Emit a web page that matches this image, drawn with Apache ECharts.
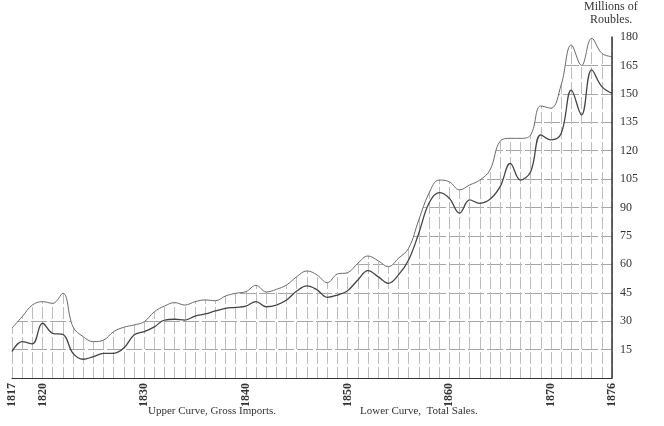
<!DOCTYPE html>
<html>
<head>
<meta charset="utf-8">
<script src="https://cdn.jsdelivr.net/npm/echarts@6/dist/echarts.min.js"></script>
<style>
html,body{margin:0;padding:0;background:#fff;}
#chart{width:664px;height:426px;}
</style>
</head>
<body>
<div id="chart"></div>
<script>
const years = [];
for (let y = 1817; y <= 1876; y++) years.push(y);

const grossImports = [
  26.4, 32.4, 38.5, 40.3, 39.4, 44.7, 27.0, 21.8, 19.2, 20.0,
  24.5, 26.8, 28.0, 29.7, 35.0, 38.0, 39.8, 38.5, 40.3, 41.2,
  40.8, 43.3, 44.7, 45.6, 48.9, 45.4, 46.8, 49.1, 53.5, 56.5,
  54.4, 50.3, 54.9, 55.6, 60.5, 64.4, 61.9, 58.8, 63.2, 68.5,
  83.4, 97.5, 104.5, 103.6, 99.3, 101.9, 104.5, 109.8, 125.0, 126.5,
  126.5, 128.3, 143.6, 142.4, 154.7, 175.8, 165.0, 179.3, 171.4, 169.6
];

const totalSales = [
  13.9, 19.2, 18.0, 28.9, 23.6, 23.0, 13.0, 9.9, 11.3, 13.0,
  13.0, 15.8, 22.7, 24.5, 27.0, 30.6, 31.0, 30.6, 32.7, 33.8,
  35.4, 36.8, 37.3, 38.0, 40.3, 37.6, 38.5, 41.2, 45.9, 48.6,
  46.5, 42.6, 43.8, 46.1, 51.7, 56.7, 53.5, 50.0, 54.4, 62.3,
  76.4, 92.2, 97.8, 94.9, 87.0, 94.0, 92.2, 94.3, 101.0, 113.3,
  104.5, 108.9, 128.3, 125.7, 129.0, 152.0, 138.9, 162.6, 153.8, 150.3
];

const yearLabels = [1817, 1820, 1830, 1840, 1850, 1860, 1870, 1876];
const yTicks = [15, 30, 45, 60, 75, 90, 105, 120, 135, 150, 165, 180];

const upperPts = years.map((y, i) => [y, grossImports[i]]);
const lowerPts = years.map((y, i) => [y, totalSales[i]]);

const serif = '"Liberation Serif", "DejaVu Serif", serif';
const chart = echarts.init(document.getElementById('chart'), null, {renderer: 'canvas'});
chart.setOption({
  backgroundColor: '#ffffff',
  animation: false,
  grid: {left: 12, right: 52, top: 37, bottom: 48, containLabel: false},
  xAxis: {
    type: 'value', min: 1817, max: 1876, interval: 1,
    axisLine: {show: true, lineStyle: {color: '#333', width: 1.2}},
    axisTick: {show: false},
    splitLine: {show: true, lineStyle: {color: '#bdbdbd', width: 1, type: [12, 3]}},
    axisLabel: {
      show: true, rotate: 90, margin: 5, fontFamily: serif, fontSize: 12,
      fontWeight: 'bold', color: '#333', hideOverlap: false,
      showMinLabel: true, showMaxLabel: true,
      formatter: v => yearLabels.indexOf(Math.round(v)) >= 0 ? String(Math.round(v)) : ''
    }
  },
  yAxis: [
    {
      type: 'value', min: 0, max: 180, interval: 15, position: 'right',
      axisLine: {show: false}, axisTick: {show: false}, axisLabel: {show: false},
      splitLine: {show: true, lineStyle: {color: '#a6a6a6', width: 1, type: [16, 3]}}
    },
    {
      type: 'value', min: 0, max: 180, interval: 15, position: 'right', z: 10,
      axisLine: {show: true, lineStyle: {color: '#333', width: 1.5}},
      axisTick: {show: false},
      splitLine: {show: false},
      axisLabel: {
        show: true, margin: 8, fontFamily: serif, fontSize: 12, color: '#333',
        formatter: v => yTicks.indexOf(v) >= 0 ? String(v) : ''
      }
    }
  ],
  series: [
    {
      name: 'mask', type: 'line', data: upperPts, smooth: 0.4, symbol: 'none',
      silent: true, z: 1, yAxisIndex: 0,
      lineStyle: {width: 0, opacity: 0},
      areaStyle: {color: '#ffffff', opacity: 1, origin: 'end'}
    },
    {
      name: 'Gross Imports', type: 'line', data: upperPts, smooth: 0.4, symbol: 'none',
      z: 3, yAxisIndex: 0,
      lineStyle: {color: '#6a6a6a', width: 1}
    },
    {
      name: 'Total Sales', type: 'line', data: lowerPts, smooth: 0.4, symbol: 'none',
      z: 4, yAxisIndex: 0,
      lineStyle: {color: '#444', width: 1.3}
    }
  ],
  graphic: [
    {type: 'text', left: 584, top: 1, style: {text: 'Millions of', font: '12px ' + serif, fill: '#333'}},
    {type: 'text', left: 590, top: 14, style: {text: 'Roubles.', font: '12px ' + serif, fill: '#333'}},
    {type: 'text', left: 148, top: 406, style: {text: 'Upper Curve, Gross Imports.', font: '11px ' + serif, fill: '#333'}},
    {type: 'text', left: 360, top: 406, style: {text: 'Lower Curve,  Total Sales.', font: '11px ' + serif, fill: '#333'}}
  ]
});
</script>
</body>
</html>
